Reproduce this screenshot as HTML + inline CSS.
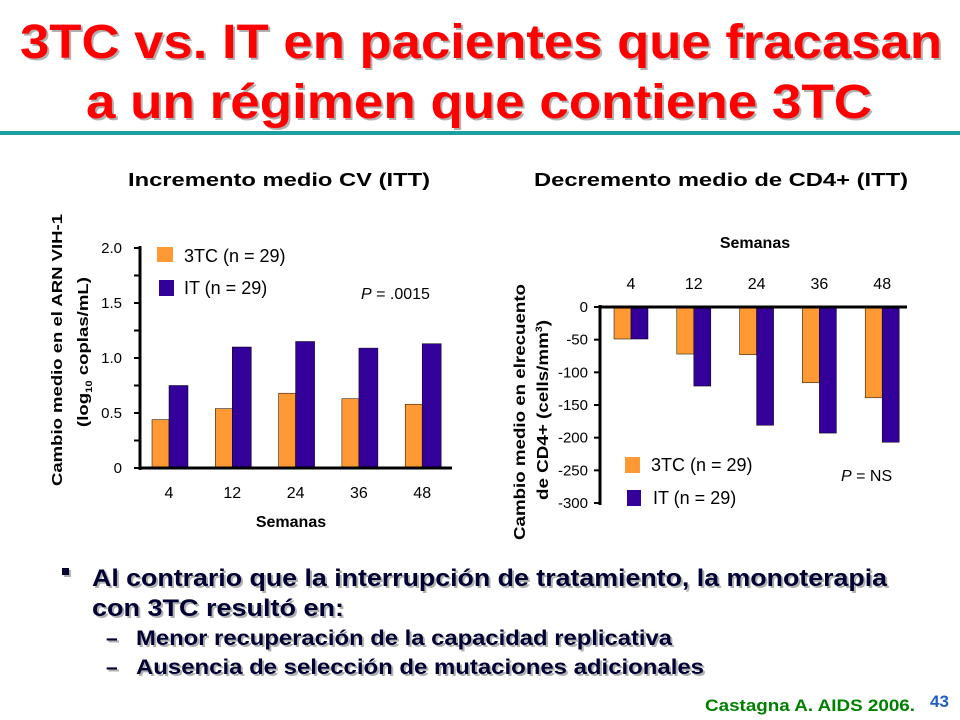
<!DOCTYPE html>
<html><head><meta charset="utf-8"><style>
body{margin:0;background:#fff;}
svg{display:block;font-family:"Liberation Sans",sans-serif;}
.t{font-weight:bold;fill:#000;}
.sh{filter:drop-shadow(2px 2px 0 #b0b0b0);}
</style></head><body>
<svg id="s" width="960" height="720" viewBox="0 0 960 720">
<g class="sh" font-weight="bold" font-size="48" fill="#ff0000">
<text x="20" y="58" textLength="922" lengthAdjust="spacingAndGlyphs">3TC vs. IT en pacientes que fracasan</text>
<text x="86" y="118" textLength="786" lengthAdjust="spacingAndGlyphs">a un régimen que contiene 3TC</text>
</g>
<rect x="0" y="131" width="960" height="4" fill="#1f9e9e"/>
<text x="128" y="186" class="t" font-size="18" textLength="302" lengthAdjust="spacingAndGlyphs">Incremento medio CV (ITT)</text>
<text x="534" y="186" class="t" font-size="18" textLength="374" lengthAdjust="spacingAndGlyphs">Decremento medio de CD4+ (ITT)</text>
<g id="left"></g>
<g id="right"></g>
<g font-family="'Liberation Sans Narrow','Liberation Sans',sans-serif" font-weight="bold" fill="#000033" class="sh">
<rect x="62" y="568" width="7" height="7" fill="#000033"/>
<text x="92" y="586" font-size="24" textLength="795" lengthAdjust="spacingAndGlyphs">Al contrario que la interrupción de tratamiento, la monoterapia</text>
<text x="92" y="616" font-size="24" textLength="252" lengthAdjust="spacingAndGlyphs">con 3TC resultó en:</text>
<text x="106" y="645" font-size="21">–</text>
<text x="136" y="645" font-size="21" textLength="536" lengthAdjust="spacingAndGlyphs">Menor recuperación de la capacidad replicativa</text>
<text x="106" y="674" font-size="21">–</text>
<text x="136" y="674" font-size="21" textLength="568" lengthAdjust="spacingAndGlyphs">Ausencia de selección de mutaciones adicionales</text>
</g>
<text x="705" y="711" font-family="'Liberation Sans Narrow','Liberation Sans',sans-serif" font-weight="bold" font-size="17" fill="#008000" textLength="210" lengthAdjust="spacingAndGlyphs">Castagna A. AIDS 2006.</text>
<text x="930" y="707" font-family="'Liberation Sans Narrow','Liberation Sans',sans-serif" font-weight="bold" font-size="17" fill="#1f5fbf">43</text>
</svg>
<script>
const weeks=["4","12","24","36","48"];
const vl3tc=[0.44,0.54,0.68,0.63,0.58];
const vlIT=[0.75,1.1,1.15,1.09,1.13];
const vlTicks=[0,0.5,1.0,1.5,2.0];
const vlTickLabels=["0","0.5","1.0","1.5","2.0"];
const cd3tc=[-49,-72,-73,-116,-139];
const cdIT=[-49,-121,-181,-193,-207];
const cdTicks=[0,-50,-100,-150,-200,-250,-300];
const cdTickLabels=["0","-50","-100","-150","-200","-250","-300"];
const NS="http://www.w3.org/2000/svg";
function mk(p,tag,a,txt){const e=document.createElementNS(NS,tag);for(const k in a)e.setAttribute(k,a[k]);if(txt!==undefined)e.textContent=txt;p.appendChild(e);return e;}
const OR="#ff9933",PU="#330099";
// left chart
(function(){
const g=document.getElementById('left');
const x0=140,x1=452,yB=468,yT=248;
const y=v=>yB-(v-0)/(2-0)*(yB-yT);
const gx=i=>152+i*63.3;
const bw=17;
weeks.forEach((w,i)=>{
 let r=mk(g,'rect',{x:gx(i),y:y(vl3tc[i]),width:bw,height:y(0)-y(vl3tc[i]),fill:OR,stroke:"#000","stroke-width":0.5});
 
 
 r=mk(g,'rect',{x:gx(i)+bw,y:y(vlIT[i]),width:bw+2,height:y(0)-y(vlIT[i]),fill:PU,stroke:"#000","stroke-width":0.5});
 
 
 const t=mk(g,'text',{x:gx(i)+bw,y:498,"font-size":16,"text-anchor":"middle"},w);
 
 
});
mk(g,'line',{x1:x0,y1:yT-2,x2:x0,y2:yB+2,stroke:"#000","stroke-width":3});
mk(g,'line',{x1:x0,y1:yB,x2:x1,y2:yB,stroke:"#000","stroke-width":3});
for(let k=0;k<=8;k++){const v=k*0.25;mk(g,'line',{x1:x0-6,y1:y(v),x2:x0,y2:y(v),stroke:"#000","stroke-width":2});}
vlTicks.forEach((v,i)=>{const t=mk(g,'text',{x:122,y:y(v)+5,"font-size":15,"text-anchor":"end"},vlTickLabels[i]);
 
 });
let t=mk(g,'text',{x:291,y:527,"font-size":16,"font-weight":"bold","text-anchor":"middle"},"Semanas");

t=mk(g,'text',{transform:"translate(62,486) rotate(-90)","font-size":15,"font-weight":"bold",textLength:272,lengthAdjust:"spacingAndGlyphs"},"Cambio medio en el ARN VIH-1");

t=mk(g,'text',{transform:"translate(88,427) rotate(-90)","font-size":15,"font-weight":"bold",textLength:150,lengthAdjust:"spacingAndGlyphs"});

t.innerHTML='(log<tspan font-size="9" dy="4">10</tspan><tspan dy="-4"> coplas/mL)</tspan>';
mk(g,'rect',{x:157,y:247,width:16,height:15,fill:OR});
mk(g,'rect',{x:159,y:280,width:15,height:16,fill:PU});
t=mk(g,'text',{x:184,y:262,"font-size":18},"3TC (n = 29)");
t=mk(g,'text',{x:184,y:294,"font-size":18},"IT (n = 29)");
t=mk(g,'text',{x:361,y:299,"font-size":16});t.innerHTML='<tspan font-style="italic">P</tspan> = .0015';
})();
// right chart
(function(){
const g=document.getElementById('right');
const x0=600,x1=907,yB=503,yT=307;
const y=v=>yT+(0-v)/300*(yB-yT);
const gx=i=>614+i*62.8;
const bw=17;
weeks.forEach((w,i)=>{
 let r=mk(g,'rect',{x:gx(i),y:y(0),width:bw,height:y(cd3tc[i])-y(0),fill:OR,stroke:"#000","stroke-width":0.5});
 
 
 r=mk(g,'rect',{x:gx(i)+bw,y:y(0),width:bw,height:y(cdIT[i])-y(0),fill:PU,stroke:"#000","stroke-width":0.5});
 
 
 const t=mk(g,'text',{x:gx(i)+bw,y:289,"font-size":16,"text-anchor":"middle"},w);
 
 
});
mk(g,'line',{x1:x0,y1:yT-2,x2:x0,y2:yB+2,stroke:"#000","stroke-width":3});
mk(g,'line',{x1:x0,y1:yT,x2:x1,y2:yT,stroke:"#000","stroke-width":3});
cdTicks.forEach((v,i)=>{mk(g,'line',{x1:x0-6,y1:y(v),x2:x0,y2:y(v),stroke:"#000","stroke-width":2});
 const t=mk(g,'text',{x:588,y:y(v)+5,"font-size":15,"text-anchor":"end"},cdTickLabels[i]);
 
 });
let t=mk(g,'text',{x:755,y:248,"font-size":16,"font-weight":"bold","text-anchor":"middle"},"Semanas");

t=mk(g,'text',{transform:"translate(525,540) rotate(-90)","font-size":16,"font-weight":"bold",textLength:256,lengthAdjust:"spacingAndGlyphs"},"Cambio medio en elrecuento");

t=mk(g,'text',{transform:"translate(548,500) rotate(-90)","font-size":16,"font-weight":"bold",textLength:180,lengthAdjust:"spacingAndGlyphs"});

t.innerHTML='de CD4+ (cells/mm<tspan font-size="9" dy="-6">3</tspan><tspan dy="6">)</tspan>';
mk(g,'rect',{x:625,y:457,width:15,height:16,fill:OR});
mk(g,'rect',{x:627,y:490,width:14,height:16,fill:PU});
t=mk(g,'text',{x:651,y:471,"font-size":18},"3TC (n = 29)");
t=mk(g,'text',{x:653,y:504,"font-size":18},"IT (n = 29)");
t=mk(g,'text',{x:841,y:481,"font-size":16});t.innerHTML='<tspan font-style="italic">P</tspan> = NS';
})();
</script>
</body></html>
